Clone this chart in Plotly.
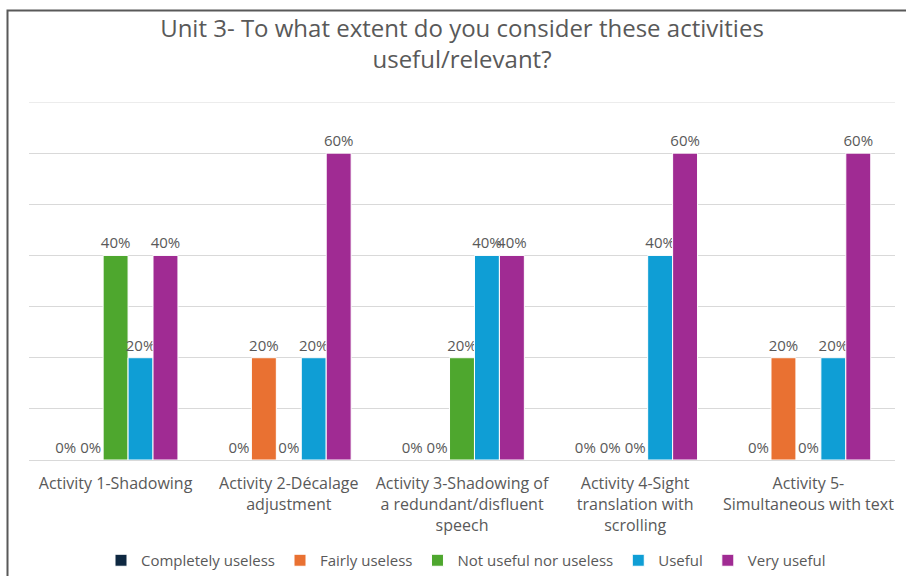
import plotly.graph_objects as go

categories = [
    "Activity 1-Shadowing",
    "Activity 2-Décalage<br>adjustment",
    "Activity 3-Shadowing of<br>a redundant/disfluent<br>speech",
    "Activity 4-Sight<br>translation with<br>scrolling",
    "Activity 5-<br>Simultaneous with text",
]
series_names = ["Completely useless", "Fairly useless", "Not useful nor useless", "Useful", "Very useful"]
completely_useless = [0.0, 0.0, 0.0, 0.0, 0.0]
fairly_useless = [0.0, 0.2, 0.0, 0.0, 0.2]
not_useful_nor_useless = [0.4, 0.0, 0.2, 0.0, 0.0]
useful = [0.2, 0.2, 0.4, 0.4, 0.2]
very_useful = [0.4, 0.6, 0.4, 0.6, 0.6]
colors = ["#0E2841", "#E97132", "#4EA72E", "#0F9ED5", "#A02B93"]

series_values = [completely_useless, fairly_useless, not_useful_nor_useless, useful, very_useful]

FONT = "Open Sans, sans-serif"
GREY = "#595959"

fig = go.Figure()
for name, vals, col in zip(series_names, series_values, colors):
    fig.add_trace(go.Bar(
        x=categories, y=vals, name=name,
        marker=dict(color=col, line=dict(color="white", width=1)),
        texttemplate="%{y:.0%}", textposition="outside",
        textfont=dict(size=15, color=GREY, family=FONT),
        constraintext="none",
        cliponaxis=False,
    ))

W, H = 906, 576
ml, mr, mt, mb = 29, 11, 102, 116
pw = W - ml - mr
ph = H - mt - mb

def px2paper_x(px):
    return (px - ml) / pw

def px2paper_y(py):
    return (H - mb - py) / ph

x0 = px2paper_x(7.5)
x1 = px2paper_x(910)
y0 = px2paper_y(580)
y1 = px2paper_y(10.5)

fig.update_layout(
    width=W, height=H,
    margin=dict(l=ml, r=mr, t=mt, b=mb, autoexpand=False),
    paper_bgcolor="white", plot_bgcolor="white",
    barmode="group", bargap=0.28, bargroupgap=0,
    font=dict(family=FONT, color=GREY, size=15),
    title=dict(
        text="Unit 3- To what extent do you consider these activities<br>useful/relevant?",
        x=px2paper_x(462), xref="paper", xanchor="center",
        y=(H - 37) / H, yanchor="top",
        font=dict(size=24, color=GREY, family=FONT),
    ),
    legend=dict(
        orientation="h", x=px2paper_x(466), xanchor="center", y=px2paper_y(544), yanchor="top",
        font=dict(size=15, color=GREY, family=FONT),
        traceorder="normal", itemwidth=30,
    ),
    shapes=[
        dict(type="path", xref="paper", yref="paper",
             path=f"M {x0} {y0} L {x0} {y1} L {x1} {y1}",
             line=dict(color="#595959", width=2)),
        dict(type="line", xref="paper", yref="y", x0=0, x1=1, y0=0.7, y1=0.7,
             line=dict(color="#D9D9D9", width=1), layer="below"),
    ],
)
fig.update_yaxes(range=[0, 0.7], dtick=0.1, showticklabels=False,
                 gridcolor="#D9D9D9", gridwidth=1, zeroline=True,
                 zerolinecolor="#D9D9D9", zerolinewidth=1, showline=False,
                 automargin=False)
fig.update_xaxes(showline=False, tickfont=dict(size=16, color=GREY, family=FONT),
                 ticks="", tickangle=0, automargin=False, ticklabelstandoff=12)

fig.write_html("out.html", config={"displayModeBar": False},
               post_script="document.body.style.margin='0';document.body.style.overflow='hidden';")
